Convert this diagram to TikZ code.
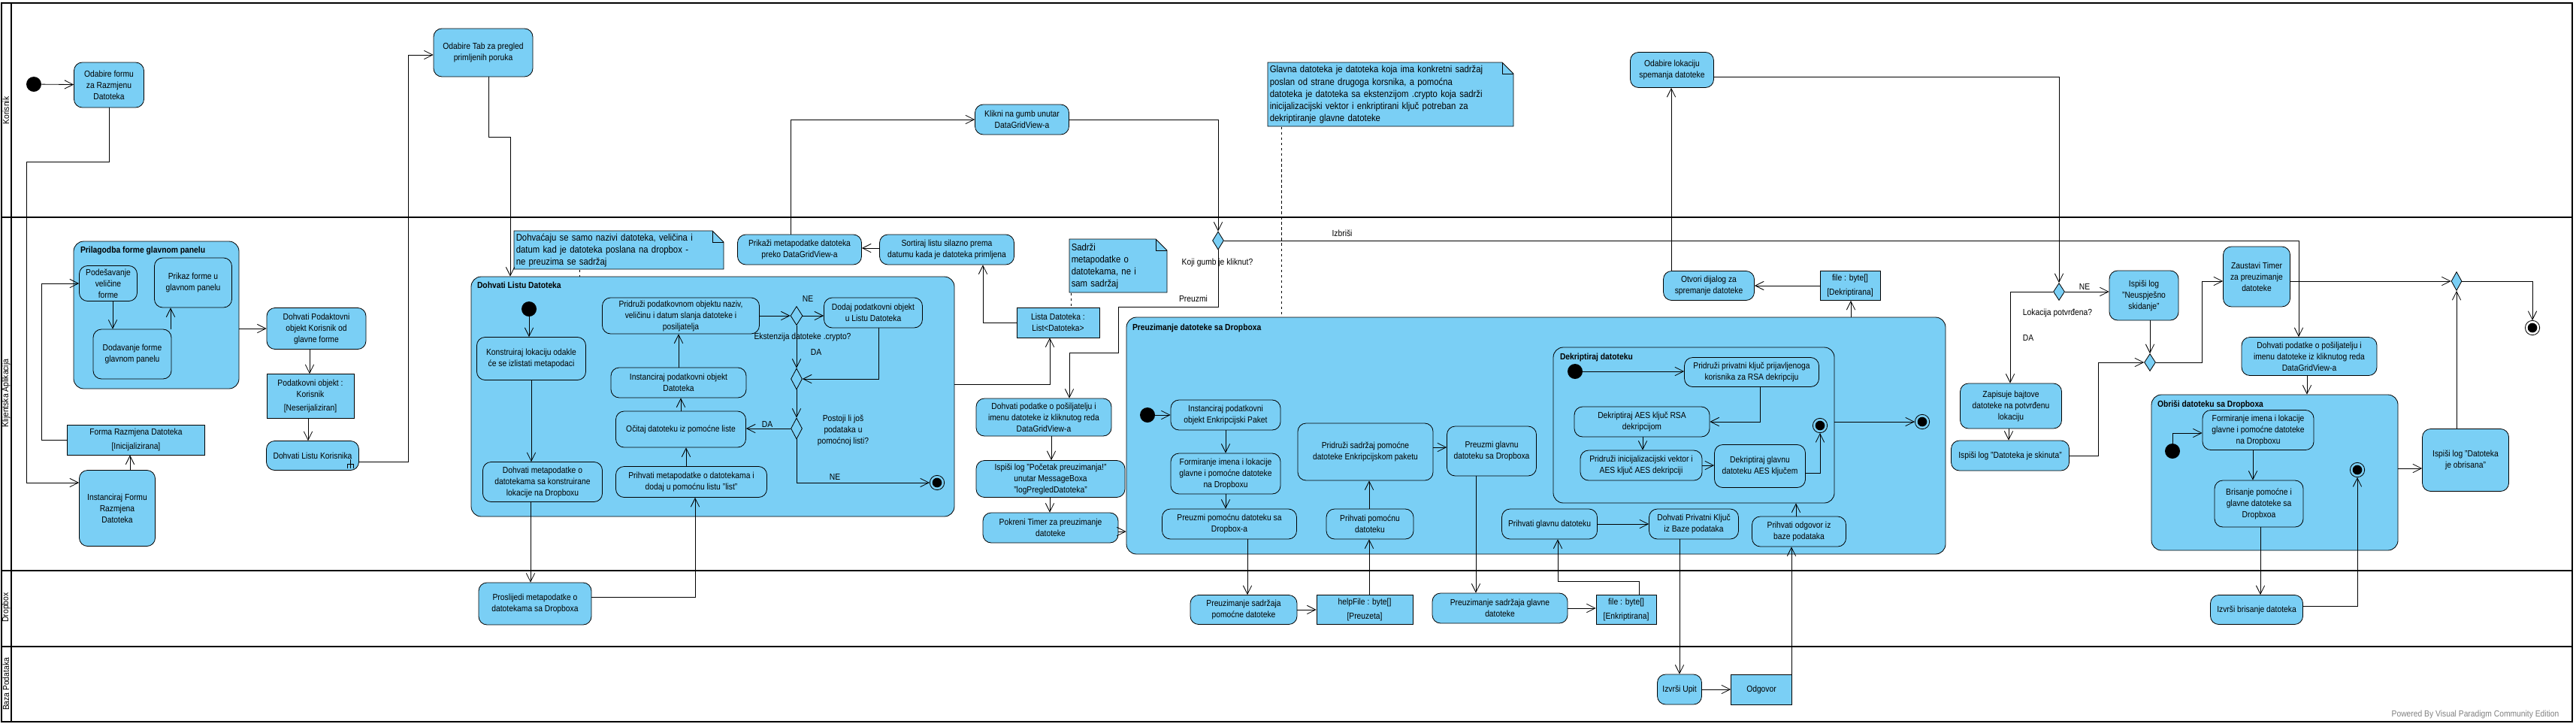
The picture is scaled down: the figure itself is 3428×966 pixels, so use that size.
\documentclass[tikz,border=0pt]{standalone}
\usepackage{fontspec}
\setmainfont{Liberation Sans}[FakeStretch=0.88]
\usetikzlibrary{arrows.meta,shapes.geometric}
\definecolor{vpblue}{RGB}{122,207,245}

\begin{document}
\begin{tikzpicture}[x=0.03cm, y=-0.03cm, line width=0.7pt,
  >={Straight Barb[length=3.4mm,width=3.4mm]},
  sz/.style 2 args={minimum width=#1*0.03cm, minimum height=#2*0.03cm},
  akcija/.style={draw, fill=vpblue, rounded corners=0.33cm, align=center, inner sep=1pt, font=\fontsize{10}{12.8}\selectfont},
  objekt/.style={draw, fill=vpblue, align=center, inner sep=1pt, font=\fontsize{10}{12.8}\selectfont},
  grupa/.style={draw, fill=vpblue, rounded corners=0.4cm},
  naslov/.style={anchor=north west, inner sep=0pt, font=\fontsize{10}{12}\selectfont\bfseries},
  odluka/.style={diamond, draw, fill=vpblue, inner sep=0pt},
  pocetak/.style={circle, fill=black, minimum size=0.6cm, inner sep=0pt},
  kraj/.style={circle, draw, minimum size=0.58cm, inner sep=0pt, path picture={\fill (path picture bounding box.center) circle (0.19cm);}},
  oznaka/.style={align=center, inner sep=0pt, font=\fontsize{10}{12.8}\selectfont},
  biljeska/.style={anchor=north west, align=left, inner sep=2pt, font=\fontsize{11}{13.8}\selectfont},
  traka/.style={rotate=90, inner sep=0pt, font=\fontsize{10}{12}\selectfont},
  sidro/.style={dashed}]

\useasboundingbox (0,0) rectangle (3428,966);

% Trake
\draw[line width=1.8pt] (2,4) rectangle (3423,960);
\draw[line width=1.8pt] (15,4) -- (15,960);
\foreach \y in {289,759,860}
  \draw[line width=1.8pt] (2,\y) -- (3423,\y);
\node[traka] (tk) at (8,147) {Korisnik};
\node[traka] (ta) at (8,523) {Klijentska Aplikacija};
\node[traka] (td) at (8,808) {Dropbox};
\node[traka] (tb) at (8,910) {Baza Podataka};

% Grupe
\node[grupa, sz={220}{196}] (gPril) at (208,419) {};
\node[naslov] (tPril) at ([shift={(9,7)}]gPril.north west) {Prilagodba forme glavnom panelu};
\node[grupa, sz={643}{319}] (gDld) at (948.5,527.5) {};
\node[naslov] (tDld) at ([shift={(8,7)}]gDld.north west) {Dohvati Listu Datoteka};
\node[grupa, sz={1090}{315}] (gPre) at (2044,579.5) {};
\node[naslov] (tPre) at ([shift={(8,9)}]gPre.north west) {Preuzimanje datoteke sa Dropboxa};
\node[grupa, sz={374}{207}] (gDek) at (2254,565.5) {};
\node[naslov] (tDek) at ([shift={(9,8)}]gDek.north west) {Dekriptiraj datoteku};
\node[grupa, sz={328}{207}] (gObr) at (3027,628.5) {};
\node[naslov] (tObr) at ([shift={(8,8)}]gObr.north west) {Obriši datoteku sa Dropboxa};

% Biljeske
\draw[fill=vpblue] (684,307) -- (948,307) -- (963,322) -- (963,358) -- (684,358) -- cycle;
\draw (948,307) |- (963,322);
\node[biljeska, text width=8.2cm, minimum height=1.53cm] (n1) at (684,307) {Dohvaćaju se samo nazivi datoteka, veličina i\\datum kad je datoteka poslana na dropbox -\\ne preuzima se sadržaj};
\draw[fill=vpblue] (1687,83) -- (1999,83) -- (2014,98) -- (2014,168) -- (1687,168) -- cycle;
\draw (1999,83) |- (2014,98);
\node[biljeska, text width=9.65cm, minimum height=2.55cm] (n2) at (1687,83) {Glavna datoteka je datoteka koja ima konkretni sadržaj\\poslan od strane drugoga korsnika, a pomoćna\\datoteka je datoteka sa ekstenzijom .crypto koja sadrži\\inicijalizacijski vektor i enkriptirani ključ potreban za\\dekriptiranje glavne datoteke};
\draw[fill=vpblue] (1423,318) -- (1538,318) -- (1553,333) -- (1553,389) -- (1423,389) -- cycle;
\draw (1538,318) |- (1553,333);
\node[biljeska, text width=3.75cm, minimum height=2.13cm] (n3) at (1423,318) {Sadrži\\metapodatke o\\datotekama, ne i\\sam sadržaj};

% Korisnik
\node[pocetak] (s1) at (45,112) {};
\node[akcija, sz={93}{60}] (odf) at (145,113) {Odabire formu\\za Razmjenu\\Datoteka};
\node[akcija, sz={132}{64}] (odt) at (643,70) {Odabire Tab za pregled\\primljenih poruka};
\node[akcija, sz={125}{40}] (klik) at (1360,159) {Klikni na gumb unutar\\DataGridView-a};
\node[akcija, sz={111}{47}] (odl) at (2225,93) {Odabire lokaciju\\spemanja datoteke};

% Klijentska aplikacija - lijevo
\node[akcija, sz={77}{47}] (pod) at (144,377) {Podešavanje\\veličine\\forme};
\node[akcija, sz={103}{66}] (prk) at (257,376) {Prikaz forme u\\glavnom panelu};
\node[akcija, sz={104}{66}] (dod) at (176,471) {Dodavanje forme\\glavnom panelu};
\node[objekt, sz={183}{40}] (frd) at (181,585) {Forma Razmjena Datoteka\\[3pt]{[Inicijalizirana]}};
\node[akcija, sz={101}{101}] (ins) at (156,676) {Instanciraj Formu\\Razmjena\\Datoteka};
\node[akcija, sz={132}{55}] (dpk) at (421,437) {Dohvati Podaktovni\\objekt Korisnik od\\glavne forme};
\node[objekt, sz={116}{59}] (kor) at (413,527) {Podatkovni objekt :\\Korisnik\\[3pt]{[Neserijaliziran]}};
\node[akcija, sz={123}{39}] (dlk) at (416,606) {Dohvati Listu Korisnika};
\draw[line width=0.6pt] (466,611) -- (466,623) (462,623) |- (470,617) -- (470,623);

% Dohvati Listu Datoteka
\node[pocetak] (s2) at (704,411) {};
\node[akcija, sz={145}{57}] (kon) at (707,477) {Konstruiraj lokaciju odakle\\će se izlistati metapodaci};
\node[akcija, sz={159}{53}] (dmp) at (722,641) {Dohvati metapodatke o\\datotekama sa konstruirane\\lokacije na Dropboxu};
\node[akcija, sz={201}{41}] (prm) at (920,641) {Prihvati metapodatke o datotekama i\\dodaj u pomoćnu listu "list"};
\node[akcija, sz={173}{48}] (oci) at (906,571) {Očitaj datoteku iz pomoćne liste};
\node[akcija, sz={180}{40}] (ipd) at (903,509) {Instanciraj podatkovni objekt\\Datoteka};
\node[akcija, sz={209}{48}] (prd) at (906,420) {Pridruži podatkovnom objektu naziv,\\veličinu i datum slanja datoteke i\\posiljatelja};
\node[odluka, sz={16}{25}] (dx1) at (1060,420) {};
\node[akcija, sz={131}{40}] (dod2) at (1162,416) {Dodaj podatkovni objekt\\u Listu Datoteka};
\node[odluka, sz={15}{28}] (mx1) at (1060,504) {};
\node[odluka, sz={15}{28}] (dx2) at (1060,570) {};
\node[kraj] (f1) at (1247,642) {};

\node[akcija, sz={165}{40}] (pmd) at (1064,332) {Prikaži metapodatke datoteka\\preko DataGridView-a};
\node[akcija, sz={179}{40}] (sor) at (1260,332) {Sortiraj listu silazno prema\\datumu kada je datoteka primljena};
\node[objekt, sz={110}{40}] (lst) at (1408,429) {Lista Datoteka :\\List<Datoteka>};
\node[odluka, sz={15}{24}] (dx3) at (1621,320) {};
\node[akcija, sz={180}{50}] (dpo) at (1389,555) {Dohvati podatke o pošiljatelju i\\imenu datoteke iz kliknutog reda\\DataGridView-a};
\node[akcija, sz={198}{49}] (isp) at (1398,637) {Ispiši log "Početak preuzimanja!"\\unutar MessageBoxa\\"logPregledDatoteka"};
\node[akcija, sz={180}{40}] (tmr) at (1398,702) {Pokreni Timer za preuzimanje\\datoteke};

% Preuzimanje datoteke
\node[pocetak] (s3) at (1527,552) {};
\node[akcija, sz={146}{40}] (iep) at (1631,552) {Instanciraj podatkovni\\objekt Enkripcijski Paket};
\node[akcija, sz={146}{54}] (fil) at (1631,630) {Formiranje imena i lokacije\\glavne i pomoćne datoteke\\na Dropboxu};
\node[akcija, sz={179}{40}] (ppd) at (1636,697) {Preuzmi pomoćnu datoteku sa\\Dropbox-a};
\node[akcija, sz={116}{40}] (php) at (1823,697) {Prihvati pomoćnu\\datoteku};
\node[akcija, sz={180}{76}] (psp) at (1817,601) {Pridruži sadržaj pomoćne\\datoteke Enkripcijskom paketu};
\node[akcija, sz={119}{66}] (pgd) at (1985,600) {Preuzmi glavnu\\datoteku sa Dropboxa};
\node[akcija, sz={127}{40}] (pgl) at (2062,697) {Prihvati glavnu datoteku};
\node[akcija, sz={119}{40}] (dpk2) at (2254,697) {Dohvati Privatni Ključ\\iz Baze podataka};
\node[akcija, sz={125}{40}] (pod2) at (2394,707) {Prihvati odgovor iz\\baze podataka};
\node[kraj] (f3) at (2558,561) {};

% Dekriptiraj datoteku
\node[pocetak] (s4) at (2096,494) {};
\node[akcija, sz={179}{39}] (ppk) at (2331,495) {Pridruži privatni ključ prijavljenoga\\korisnika za RSA dekripciju};
\node[akcija, sz={180}{40}] (dak) at (2185,561) {Dekriptiraj AES ključ RSA\\dekripcijom};
\node[akcija, sz={162}{40}] (piv) at (2184,619) {Pridruži inicijalizacijski vektor i\\AES ključ AES dekripciji};
\node[akcija, sz={121}{57}] (dgd) at (2342,620) {Dekriptiraj glavnu\\datoteku AES ključem};
\node[kraj] (f2) at (2422,566) {};

% Spremanje
\node[objekt, sz={80}{39}] (fdk) at (2462,380) {file : byte[]\\[3pt]{[Dekriptirana]}};
\node[akcija, sz={121}{39}] (otv) at (2274,380) {Otvori dijalog za\\spremanje datoteke};
\node[odluka, sz={15}{23}] (dx4) at (2740,388) {};
\node[akcija, sz={92}{66}] (nsp) at (2853,393) {Ispiši log\\"Neuspješno\\skidanje"};
\node[akcija, sz={135}{60}] (zap) at (2676,540) {Zapisuje bajtove\\datoteke na potvrđenu\\lokaciju};
\node[akcija, sz={157}{40}] (lsk) at (2675,606) {Ispiši log "Datoteka je skinuta"};
\node[odluka, sz={15}{23}] (mx2) at (2861,482) {};
\node[akcija, sz={89}{80}] (zau) at (3003,368) {Zaustavi Timer\\za preuzimanje\\datoteke};
\node[odluka, sz={14}{25}] (mx3) at (3269,374) {};
\node[kraj] (f4) at (3370,436) {};

% Brisanje
\node[akcija, sz={180}{51}] (dpo2) at (3073,474) {Dohvati podatke o pošiljatelju i\\imenu datoteke iz kliknutog reda\\DataGridView-a};
\node[pocetak] (s5) at (2891,600) {};
\node[akcija, sz={148}{53}] (fil2) at (3005,572) {Formiranje imena i lokacije\\glavne i pomoćne datoteke\\na Dropboxu};
\node[akcija, sz={118}{62}] (bri) at (3006,670) {Brisanje pomoćne i\\glavne datoteke sa\\Dropbxoa};
\node[kraj] (f5) at (3137,625) {};
\node[akcija, sz={115}{83}] (obr) at (3281,612) {Ispiši log "Datoteka\\je obrisana"};

% Dropbox
\node[akcija, sz={150}{56}] (prs) at (712,803) {Proslijedi metapodatke o\\datotekama sa Dropboxa};
\node[akcija, sz={142}{39}] (pszp) at (1655,811) {Preuzimanje sadržaja\\pomoćne datoteke};
\node[objekt, sz={128}{39}] (hlp) at (1816,811) {helpFile : byte[]\\[3pt]{[Preuzeta]}};
\node[akcija, sz={180}{40}] (pszg) at (1996,809) {Preuzimanje sadržaja glavne\\datoteke};
\node[objekt, sz={80}{39}] (fen) at (2164,811) {file : byte[]\\[3pt]{[Enkriptirana]}};
\node[akcija, sz={123}{39}] (ibd) at (3003,811) {Izvrši brisanje datoteka};

% Baza podataka
\node[akcija, sz={59}{40}] (upit) at (2235,917) {Izvrši Upit};
\node[objekt, sz={81}{40}] (odg) at (2344,917) {Odgovor};

% Veze
\draw[->] (s1) -- (odf);
\draw[->] (odf.south) |- (35,215) |- (ins.west|-0,642);
\draw[->] (ins.north-|173,0) -- (frd.south-|173,0);
\draw[->] (frd.west) -| (55,377) -- (pod.west);
\draw[->] (pod.south-|150,0) -- (dod.north-|150,0);
\draw[->] (dod.north-|227,0) -- (prk.south-|227,0);
\draw[->] (gPril.east|-dpk.west) -- (dpk.west);
\draw[->] (dpk.south-|412,0) -- (kor.north-|412,0);
\draw[->] (kor.south-|410,0) -- (dlk.north-|410,0);
\draw[->] (dlk.east|-0,614) -| (543,73) -- (odt.west|-0,73);
\draw[->] (odt.south-|650,0) |- (679,182) -- (gDld.north-|679,0);
\draw[->] (s2.south) -- (s2.south|-kon.north);
\draw[->] (kon.south) -- (kon.south|-dmp.north);
\draw[->] (dmp.south-|706,0) -- (prs.north-|706,0);
\draw[->] (prs.east|-0,794) -| (prm.south-|925,0);
\draw[->] (prm.north-|913,0) -- (oci.south-|913,0);
\draw[->] (oci.north) -- (oci.north|-ipd.south);
\draw[->] (ipd.north) -- (ipd.north|-prd.south);
\draw[->] (prd.east) -- (dx1.west);
\draw[->] (dx1.east) -- (dod2.west|-dx1.east);
\draw[->] (dx1.south) -- (mx1.north);
\draw[->] (dod2.south-|1169,0) |- (mx1.east);
\draw[->] (mx1.south) -- (dx2.north);
\draw[->] (dx2.west) -- (oci.east|-dx2.west);
\draw[->] (dx2.south) |- (f1.west);
\draw[->] (gDld.east|-0,511) -| (lst.south-|1397,0);
\draw[->] (lst.west) -| (sor.south-|1308,0);
\draw[->] (sor.west|-0,330) -- (pmd.east|-0,330);
\draw[->] (pmd.north-|1052,0) |- (klik.west);
\draw[->] (klik.east) -| (dx3.north);
\draw[->] (dx3.east) -| (dpo2.north-|3059,0);
\draw[->] (dx3.south) |- (1488,408) |- (1423,469) -- (dpo.north-|1423,0);
\draw[->] (dpo.south-|1399,0) -- (isp.north-|1399,0);
\draw[->] (isp.south-|1397,0) -- (tmr.north-|1397,0);
\draw[->] (tmr.east|-0,707) -- (gPre.west|-0,707);
\draw[->] (s3) -- (iep);
\draw[->] (iep.south) -- (fil.north);
\draw[->] (fil.south) -- (fil.south|-ppd.north);
\draw[->] (ppd.south-|1660,0) -- (pszp.north-|1660,0);
\draw[->] (pszp.east) -- (hlp.west);
\draw[->] (hlp.north-|1822,0) -- (php.south-|1822,0);
\draw[->] (php.north-|1822,0) -- (psp.south-|1822,0);
\draw[->] (psp.east|-0,595) -- (pgd.west|-0,595);
\draw[->] (pgd.south-|1964,0) -- (pszg.north-|1964,0);
\draw[->] (pszg.east) -- (fen.west|-pszg.east);
\draw[->] (fen.north-|2181,0) |- (2073,773) -- (pgl.south-|2073,0);
\draw[->] (pgl.east) -- (dpk2.west);
\draw[->] (dpk2.south-|2235,0) -- (upit.north);
\draw[->] (upit.east) -- (odg.west);
\draw[->] (odg.north-|2384,0) -- (pod2.south-|2384,0);
\draw[->] (pod2.north-|2390,0) -- (gDek.south-|2390,0);
\draw[->] (s4) -- (ppk.west|-s4);
\draw[->] (ppk.south-|2342,0) |- (dak.east);
\draw[->] (dak.south-|2186,0) -- (piv.north-|2186,0);
\draw[->] (piv.east) -- (dgd.west|-piv.east);
\draw[->] (dgd.east|-0,629) -| (f2.south);
\draw[->] (gDek.east|-0,561) -- (f3.west);
\draw[->] (gPre.north-|2463,0) -- (fdk.south-|2463,0);
\draw[->] (fdk.west) -- (otv.east);
\draw[->] (otv.north-|2224,0) -- (odl.south-|2224,0);
\draw[->] (odl.east|-0,102) -| (dx4.north);
\draw[->] (dx4.east) -- (nsp.west|-dx4.east);
\draw[->] (dx4.west) -| (zap.north-|2675,0);
\draw[->] (zap.south-|2673,0) -- (lsk.north-|2673,0);
\draw[->] (lsk.east) -| (2792,482) -- (mx2.west);
\draw[->] (nsp.south-|2861,0) -- (mx2.north);
\draw[->] (mx2.east) -| (2930,374) -- (zau.west|-0,374);
\draw[->] (zau.east|-0,374) -- (mx3.west);
\draw[->] (mx3.east) -| (f4.north);
\draw[->] (obr.north-|3269,0) -- (mx3.south);
\draw[->] (dpo2.south-|3070,0) -- (gObr.north-|3070,0);
\draw[->] (s5.north) |- (fil2.west|-0,576);
\draw[->] (fil2.south-|2998,0) -- (bri.north-|2998,0);
\draw[->] (bri.south-|3008,0) -- (ibd.north-|3008,0);
\draw[->] (ibd.east|-0,806) -| (f5.south);
\draw[->] (gObr.east|-0,623) -- (obr.west|-0,623);

% Sidra biljeski
\draw[sidro] (n1.south-|771,0) -- (gDld.north-|771,0);
\draw[sidro] (n3.south-|1425,0) -- (lst.north-|1425,0);
\draw[sidro] (n2.south-|1705,0) -- (gPre.north-|1705,0);

% Oznake
\node[oznaka] (o1) at (1075,397) {NE};
\node[oznaka] (o2) at (1068,448) {Ekstenzija datoteke .crypto?};
\node[oznaka] (o3) at (1086,468) {DA};
\node[oznaka] (o4) at (1122,572) {Postoji li još\\podataka u\\pomoćnoj listi?};
\node[oznaka] (o5) at (1021,564) {DA};
\node[oznaka] (o6) at (1111,634) {NE};
\node[oznaka] (o7) at (1620,349) {Koji gumb je kliknut?};
\node[oznaka] (o8) at (1786,310) {Izbriši};
\node[oznaka] (o9) at (1588,397) {Preuzmi};
\node[oznaka] (o10) at (2774,381) {NE};
\node[oznaka] (o11) at (2738,416) {Lokacija potvrđena?};
\node[oznaka] (o12) at (2699,449) {DA};
\node[oznaka, text=gray] (wm) at (3294,950) {Powered By Visual Paradigm Community Edition};
\end{tikzpicture}
\end{document}
